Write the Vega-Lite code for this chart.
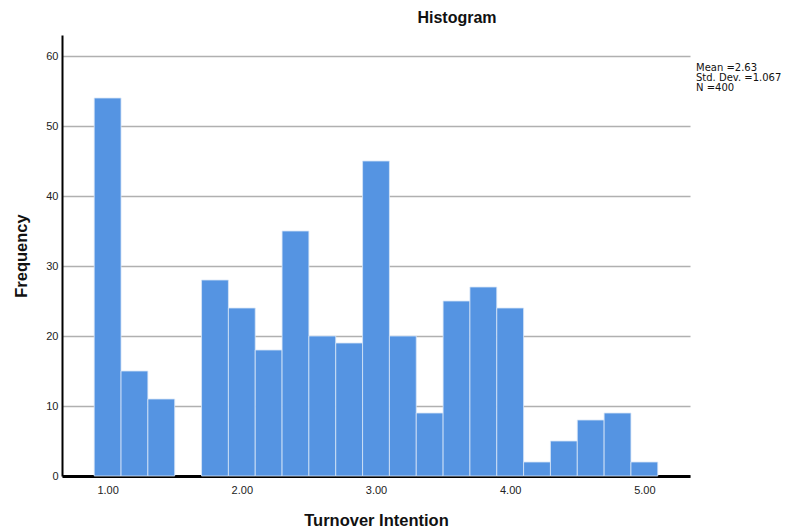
{
  "$schema": "https://vega.github.io/schema/vega-lite/v6.json",
  "width": 628,
  "height": 441,
  "autosize": {"type": "none"},
  "padding": {"left": 62, "top": 35, "right": 101, "bottom": 55},
  "background": "white",
  "title": {
    "text": "Histogram",
    "anchor": "middle",
    "frame": "group",
    "dx": 81,
    "offset": 9,
    "fontSize": 16,
    "font": "Liberation Sans",
    "fontWeight": "bold",
    "color": "#111111"
  },
  "config": {
    "view": {"stroke": null},
    "scale": {"continuousPadding": 0},
    "axis": {
      "labelFont": "Liberation Sans",
      "labelFontSize": 11,
      "labelColor": "#222222",
      "titleFont": "Liberation Sans",
      "titleFontSize": 16.5,
      "titleFontWeight": "bold",
      "titleColor": "#111111",
      "ticks": false,
      "domainColor": "#000000"
    }
  },
  "layer": [
    {
      "data": {
        "values": [
          {"bin_start": 0.9, "bin_end": 1.1, "count": 54},
          {"bin_start": 1.1, "bin_end": 1.3, "count": 15},
          {"bin_start": 1.3, "bin_end": 1.5, "count": 11},
          {"bin_start": 1.7, "bin_end": 1.9, "count": 28},
          {"bin_start": 1.9, "bin_end": 2.1, "count": 24},
          {"bin_start": 2.1, "bin_end": 2.3, "count": 18},
          {"bin_start": 2.3, "bin_end": 2.5, "count": 35},
          {"bin_start": 2.5, "bin_end": 2.7, "count": 20},
          {"bin_start": 2.7, "bin_end": 2.9, "count": 19},
          {"bin_start": 2.9, "bin_end": 3.1, "count": 45},
          {"bin_start": 3.1, "bin_end": 3.3, "count": 20},
          {"bin_start": 3.3, "bin_end": 3.5, "count": 9},
          {"bin_start": 3.5, "bin_end": 3.7, "count": 25},
          {"bin_start": 3.7, "bin_end": 3.9, "count": 27},
          {"bin_start": 3.9, "bin_end": 4.1, "count": 24},
          {"bin_start": 4.1, "bin_end": 4.3, "count": 2},
          {"bin_start": 4.3, "bin_end": 4.5, "count": 5},
          {"bin_start": 4.5, "bin_end": 4.7, "count": 8},
          {"bin_start": 4.7, "bin_end": 4.9, "count": 9},
          {"bin_start": 4.9, "bin_end": 5.1, "count": 2}
        ]
      },
      "mark": {"type": "bar", "orient": "vertical", "color": "#5594e2", "stroke": "#d8e6f8", "strokeWidth": 0.8},
      "encoding": {
        "x": {
          "field": "bin_start",
          "type": "quantitative",
          "scale": {"domain": [0.66, 5.34], "nice": false, "zero": false, "padding": 0},
          "axis": {
            "title": "Turnover Intention",
            "values": [1, 2, 3, 4, 5],
            "format": ".2f",
            "grid": false,
            "domainWidth": 3,
            "labelPadding": 8,
            "titlePadding": 17
          }
        },
        "x2": {"field": "bin_end"},
        "y": {
          "field": "count",
          "type": "quantitative",
          "scale": {"domain": [0, 63], "nice": false, "padding": 0},
          "axis": {
            "title": "Frequency",
            "values": [0, 10, 20, 30, 40, 50, 60],
            "grid": true,
            "gridColor": "#b0b0b0",
            "gridWidth": 1.5,
            "domainWidth": 2,
            "labelPadding": 4,
            "titlePadding": 16
          }
        },
        "y2": {"datum": 0}
      }
    },
    {
      "data": {"values": [{"stats": "Mean =2.63\nStd. Dev. =1.067\nN =400"}]},
      "mark": {
        "type": "text",
        "align": "left",
        "baseline": "top",
        "dx": 6,
        "lineBreak": "\n",
        "lineHeight": 10,
        "fontSize": 10,
        "font": "DejaVu Sans",
        "color": "#111111",
        "clip": false
      },
      "encoding": {
        "x": {"datum": 5.34, "type": "quantitative"},
        "y": {"datum": 59, "type": "quantitative"},
        "text": {"field": "stats"}
      }
    }
  ]
}
